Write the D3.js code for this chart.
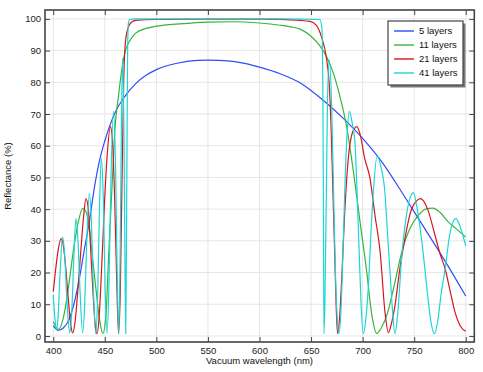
<!DOCTYPE html>
<html>
<head>
<meta charset="utf-8">
<script src="https://d3js.org/d3.v7.min.js"></script>
<style>
  body { margin: 0; background: #fff; }
  svg { display: block; font-family: "Liberation Sans", Arial, sans-serif; }
</style>
</head>
<body>
<svg id="chart"></svg>
<script>
// values
let seriesNames = ["5 layers", "11 layers", "21 layers", "41 layers"];
let seriesColors = ["#2f4cf5", "#35b53c", "#d8141b", "#1cd6d6"];

let xTicks = [400, 450, 500, 550, 600, 650, 700, 750, 800];
let yTicks = [0, 10, 20, 30, 40, 50, 60, 70, 80, 90, 100];

let wl5 = [400,405,410,415,420,425,430,435,440,445,450,455,460,470,480,490,500,520,540,550,560,580,600,620,640,660,680,700,720,740,760,780,800];
let r5 = [3.2,1.8,2.6,5,10,17.5,27,36,47,55.5,61.5,66.5,70.5,75.8,79.6,82.2,84,86,86.9,87,86.9,86.3,84.8,82.7,79.7,74.8,69,62.3,54.3,44.3,34,23.6,12.6];

let wl11 = [400,405,410,415,420,425,428.5,432,435,437.5,440,442.5,445,448,451,453.7,456.9,460,463.4,466,470,475,480,490,500,530,550,575,600,620,630,640,650,659,665,672,678,684.5,691,697.5,704,709,713.7,718,723.4,730,738,746,754,761,768,775,783,790,800];
let r11 = [4.5,2,6,16,28,37,40.2,39,34,26.5,19,11.5,5,0.8,6,25.4,46.4,66,76,83,90,93.5,95.5,97,97.7,98.6,99,99.1,98.7,98,97.5,96.7,94.5,91.3,88.1,82.5,75.5,66,52,36,20.2,6.5,0.8,2.5,6.5,15,26.5,34,38,40,40.3,39,36,34,31.2];

let wl21 = [400,402,404.5,407.5,410,412.5,415,417,418.8,421,424,427,429.5,431.7,434,436,438.5,440.8,442.3,444.5,447,449.7,452.3,455.5,457.5,459.5,461.5,463.3,465,466.5,468.3,469.8,472,476,480,500,550,600,640,649,655,660,665,667.5,669.5,671,673,674.5,675.7,677.5,680,682.5,686,690,694.3,698,702,707,712,717,721.7,725,728,731.4,736,741,747.6,756.3,763,770,775,780,785,789.6,795,800];
let r21 = [14,20,26.5,30.7,28,20,10,3.5,1,4,15,28,38,43.3,40,29,14,3,0.7,6,22,42,57,66,61,44,18,0.7,14,45,80,92,96.5,99,99.5,99.8,99.9,99.9,99.5,99.2,98,94.4,87.5,80,65,48,25,8,0.8,5,20,38,55.5,64,66,63,56,50,38,26.5,7.5,1,4,9.6,21,30.7,40.1,43.3,40,32,26,21.2,14,7.5,3,1.5];

let wl41 = [400,401.5,403,404.5,406.5,409,411,413,414.5,416,418,420,422,424,426,428.5,430.5,432.5,435,437,439,441.2,443,444.8,446.6,448.5,450.3,452.2,454,456,458.4,460.5,462,463.5,465,466.2,467.3,468.5,469.5,470.3,471.2,472,472.8,474,480,550,620,658.7,660.5,661.5,662,662.5,663.5,664.3,665,666,667.7,670,671.6,673.5,675.5,677,679,681,683,685,687.1,690,692.6,694.2,696.5,698.5,700.7,703,706,708,710.5,714,718,721.7,724,726.6,729,731.4,734,738,742,745.5,749.2,753,759,763,766,769.5,773,776,780,784,787,790.6,794,797,800];
let r41 = [13,6,2,5,19,31.2,26,13,5,1,8,25,37,30,14,1,10,30,45,36,14,0.7,12,40,56,44,15,0.7,16,50,70.8,52,20,0.7,30,70,87.6,65,25,0.7,40,85,98.5,99.8,100,100,100,99.8,97,75,40,0.7,12,32,49,75,87,72,49,22,5,0.7,8,27,49,64,70.8,67,60.8,49,28,10,0.7,5,18,32,46,56.6,53,45,33,20,8,0.7,7,25.4,37,43,45.2,40,25.4,13,5,0.7,5,13,21.2,31,35.5,37,35,32,28.4];

let seriesWl = [wl5, wl11, wl21, wl41];
let seriesR = [r5, r11, r21, r41];

//chart: config
function getChartConfig(){
    let width = 483;
    let height = 372;
    let margin = {
        top: 10,
        bottom: 30,
        left: 45,
        right: 8.7
    }

    let bodyHeight = height - margin.top - margin.bottom
    let bodyWidth = width - margin.left - margin.right

    let container = d3.select('#chart')
        .attr('width', width)
        .attr('height', height)

    return { width, height, margin, bodyHeight, bodyWidth, container }
}

//chart: scales
function getChartScales(config){
    let {margin, width, height} = config;
    let xScale = d3.scaleLinear()
        .domain([392, 808.3])
        .range([margin.left, width - margin.right])

    let yScale = d3.scaleLinear()
        .domain([-1.9, 102.8])
        .range([height - margin.bottom, margin.top])

    return {xScale, yScale};
}

//chart: grid lines
function drawGrid(scales, config){
    let {xScale, yScale} = scales;
    let {container, margin, width, height} = config;
    let grid = container.append('g').attr('stroke', '#e6e6e6').attr('stroke-width', 1)

    grid.selectAll('.vgrid')
        .data(xTicks)
        .enter().append('line')
        .attr('x1', d => xScale(d)).attr('x2', d => xScale(d))
        .attr('y1', margin.top).attr('y2', height - margin.bottom)

    grid.selectAll('.hgrid')
        .data(yTicks)
        .enter().append('line')
        .attr('x1', margin.left).attr('x2', width - margin.right)
        .attr('y1', d => yScale(d)).attr('y2', d => yScale(d))
}

//chart: curves
function drawLines(scales, config){
    let {xScale, yScale} = scales;
    let {container, margin, bodyWidth, bodyHeight} = config;

    container.append('clipPath').attr('id', 'plotClip')
        .append('rect')
        .attr('x', margin.left).attr('y', margin.top)
        .attr('width', bodyWidth).attr('height', bodyHeight)

    let line = d3.line()
        .x(d => xScale(d[0]))
        .y(d => yScale(d[1]))
        .curve(d3.curveMonotoneX)

    let data = seriesWl.map((wl, i) => wl.map((w, j) => [w, seriesR[i][j]]));

    container.append('g')
        .attr('clip-path', 'url(#plotClip)')
        .selectAll('path')
        .data(data)
        .enter().append('path')
        .attr('d', d => line(d))
        .attr('fill', 'none')
        .attr('stroke', (d, i) => seriesColors[i])
        .attr('stroke-width', 1.2)
}

//chart: frame, ticks and labels
function drawAxes(scales, config){
    let {xScale, yScale} = scales;
    let {container, margin, width, height, bodyWidth, bodyHeight} = config;

    let bottom = container.append('g')
        .attr('transform', `translate(0,${height - margin.bottom})`)
        .call(d3.axisBottom(xScale).tickValues(xTicks).tickSize(-5).tickPadding(5))
    let top = container.append('g')
        .attr('transform', `translate(0,${margin.top})`)
        .call(d3.axisTop(xScale).tickValues(xTicks).tickSize(-5).tickFormat(''))
    let left = container.append('g')
        .attr('transform', `translate(${margin.left},0)`)
        .call(d3.axisLeft(yScale).tickValues(yTicks).tickSize(-5).tickPadding(4))
    let right = container.append('g')
        .attr('transform', `translate(${width - margin.right},0)`)
        .call(d3.axisRight(yScale).tickValues(yTicks).tickSize(-5).tickFormat(''))

    ;[bottom, top, left, right].forEach(g => {
        g.select('.domain').remove()
        g.selectAll('.tick line').attr('stroke', '#444')
        g.selectAll('.tick text')
            .attr('fill', '#222')
            .style('font-size', '9.5px')
            .style('font-family', '"Liberation Sans", Arial, sans-serif')
    })

    container.append('rect')
        .attr('x', margin.left).attr('y', margin.top)
        .attr('width', bodyWidth).attr('height', bodyHeight)
        .attr('fill', 'none')
        .attr('stroke', '#444')
        .attr('stroke-width', 1.6)

    container.append('text')
        .attr('x', 259.5).attr('y', 364)
        .attr('text-anchor', 'middle')
        .style('font-size', '9.5px')
        .attr('fill', '#111')
        .text('Vacuum wavelength (nm)')

    container.append('text')
        .attr('transform', 'translate(10.5,176) rotate(-90)')
        .attr('text-anchor', 'middle')
        .style('font-size', '9.5px')
        .attr('fill', '#111')
        .text('Reflectance (%)')
}

//chart: legend
function drawLegend(config){
    let {container} = config;
    let legend = container.append('g').attr('transform', 'translate(388,21)')

    legend.append('rect')
        .attr('x', 2.5).attr('y', 2.5).attr('width', 75).attr('height', 64)
        .attr('fill', '#7a7a7a')
    legend.append('rect')
        .attr('x', 0).attr('y', 0).attr('width', 75).attr('height', 64)
        .attr('fill', '#fff')
        .attr('stroke', '#444')
        .attr('stroke-width', 1.2)

    let items = legend.selectAll('.item')
        .data(seriesNames)
        .enter().append('g')
        .attr('transform', (d, i) => `translate(0,${10 + i * 14})`)

    items.append('line')
        .attr('x1', 6).attr('x2', 26)
        .attr('stroke', (d, i) => seriesColors[i])
        .attr('stroke-width', 1.4)
    items.append('text')
        .attr('x', 31).attr('y', 3.4)
        .style('font-size', '9.5px')
        .attr('fill', '#111')
        .text(d => d)
}

function drawChart(){
    let config = getChartConfig();
    let scales = getChartScales(config);
    drawGrid(scales, config);
    drawLines(scales, config);
    drawAxes(scales, config);
    drawLegend(config);
}

drawChart();
</script>
</body>
</html>
